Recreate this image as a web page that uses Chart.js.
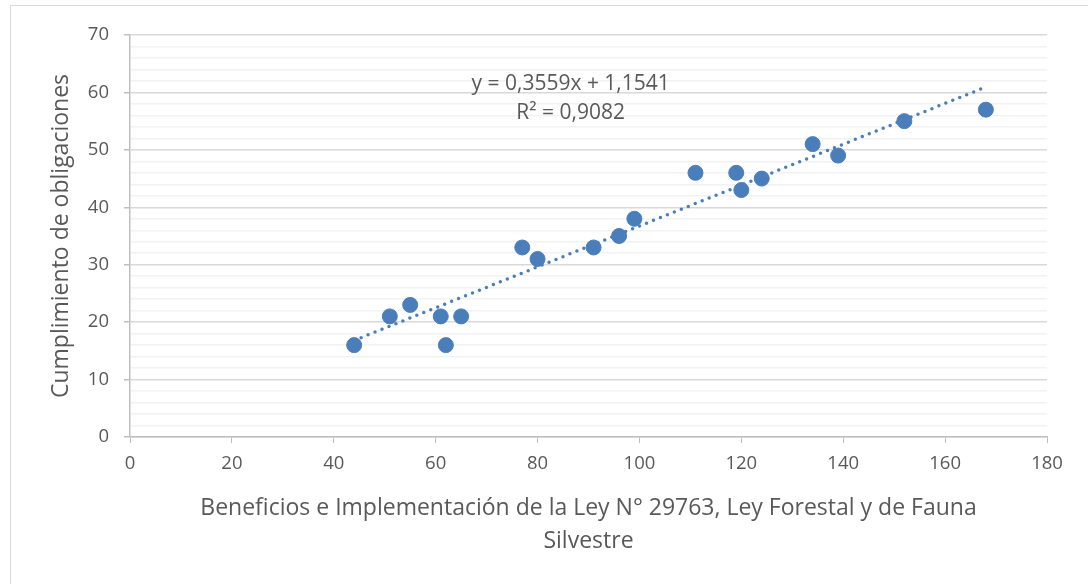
<!DOCTYPE html>
<html>
<head>
<meta charset="utf-8">
<script src="https://cdn.jsdelivr.net/npm/chart.js@4.4.1/dist/chart.umd.min.js"></script>
<style>
  html, body { margin: 0; padding: 0; background: #ffffff; }
  #wrap { position: relative; width: 1088px; height: 584px; overflow: hidden; }
  #frame { position: absolute; left: 10px; top: 5px; width: 1100px; height: 600px; border: 1.5px solid #d9d9d9; box-sizing: border-box; }
  canvas { position: absolute; left: 0; top: 0; }
</style>
</head>
<body>
<div id="wrap">
  <div id="frame"></div>
  <canvas id="c" width="1088" height="584"></canvas>
</div>
<script>
// Data
const xValues = [44, 51, 55, 61, 62, 65, 77, 80, 91, 96, 99, 111, 119, 120, 124, 134, 139, 152, 168];
const yValues = [16, 21, 23, 21, 16, 21, 33, 31, 33, 35, 38, 46, 46, 43, 45, 51, 49, 55, 57];
// Linear trendline shown in the chart
const trendSlope = 0.3559;
const trendIntercept = 1.1541;
const trendLabels = ["y = 0,3559x + 1,1541", "R\u00b2 = 0,9082"];
const xTitle = ["Beneficios e Implementaci\u00f3n de la Ley N\u00b0 29763, Ley Forestal y de Fauna", "Silvestre"];
const yTitle = "Cumplimiento de obligaciones";

const points = xValues.map((x, i) => ({ x: x, y: yValues[i] }));
const xMin = Math.min(...xValues), xMax = Math.max(...xValues);
const trendPoints = [xMin, xMax].map(x => ({ x: x, y: trendSlope * x + trendIntercept }));

const FONT = "'Open Sans', sans-serif";
const TXT = '#595959';

const eqPlugin = {
  id: 'eq',
  afterDatasetsDraw(chart) {
    const ctx = chart.ctx;
    const xs = chart.scales.x, ys = chart.scales.y;
    ctx.save();
    ctx.font = '21px ' + FONT;
    ctx.fillStyle = TXT;
    ctx.textAlign = 'center';
    ctx.textBaseline = 'middle';
    ctx.fillText(trendLabels[0], xs.getPixelForValue(86.5), ys.getPixelForValue(61.45));
    ctx.fillText(trendLabels[1], xs.getPixelForValue(86.5), ys.getPixelForValue(56.4));
    ctx.restore();
  }
};

new Chart(document.getElementById('c'), {
  type: 'scatter',
  data: {
    datasets: [
      {
        type: 'line',
        data: trendPoints,
        borderColor: '#4a7ebb',
        borderWidth: 3.5,
        borderDash: [0, 7.5],
        borderCapStyle: 'round',
        pointRadius: 0,
        fill: false,
        order: 2
      },
      {
        data: points,
        backgroundColor: '#4a7ebb',
        borderColor: '#4a7ebb',
        pointRadius: 7.5,
        pointHoverRadius: 7.5,
        order: 1
      }
    ]
  },
  options: {
    responsive: false,
    animation: false,
    events: [],
    layout: { padding: { left: 0, right: 41, top: 35, bottom: 0 } },
    plugins: { legend: { display: false }, tooltip: { enabled: false } },
    scales: {
      x: {
        type: 'linear',
        min: 0, max: 180,
        ticks: { stepSize: 20, color: TXT, font: { family: FONT, size: 18.5 }, padding: 10 },
        grid: { drawOnChartArea: false, drawTicks: true, tickLength: 6, color: '#bfbfbf', tickColor: '#bfbfbf' },
        border: { color: '#bfbfbf', width: 1.5 },
        title: { display: true, text: xTitle, color: TXT, font: { family: FONT, size: 23, lineHeight: 1.435 }, padding: { top: 0, bottom: 26 } },
        afterFit(scale) { scale.height = 147; }
      },
      y: {
        type: 'linear',
        min: 0, max: 70,
        ticks: {
          stepSize: 2, color: TXT, font: { family: FONT, size: 18.5 }, padding: 15,
          autoSkip: false,
          callback: v => (v % 10 === 0 ? String(v) : '')
        },
        grid: {
          drawTicks: true, tickLength: 6,
          color: ctx => (ctx.tick && ctx.tick.value % 10 === 0 ? '#d9d9d9' : '#f2f2f2'),
          tickColor: ctx => (ctx.tick && ctx.tick.value % 10 === 0 ? '#bfbfbf' : 'rgba(0,0,0,0)'),
          lineWidth: 1.5
        },
        border: { color: '#bfbfbf', width: 1.5 },
        title: { display: true, text: yTitle, color: TXT, font: { family: FONT, size: 23 }, padding: { top: 48, bottom: 0 } },
        afterFit(scale) { scale.width = 130; }
      }
    }
  },
  plugins: [eqPlugin]
});
</script>
</body>
</html>
